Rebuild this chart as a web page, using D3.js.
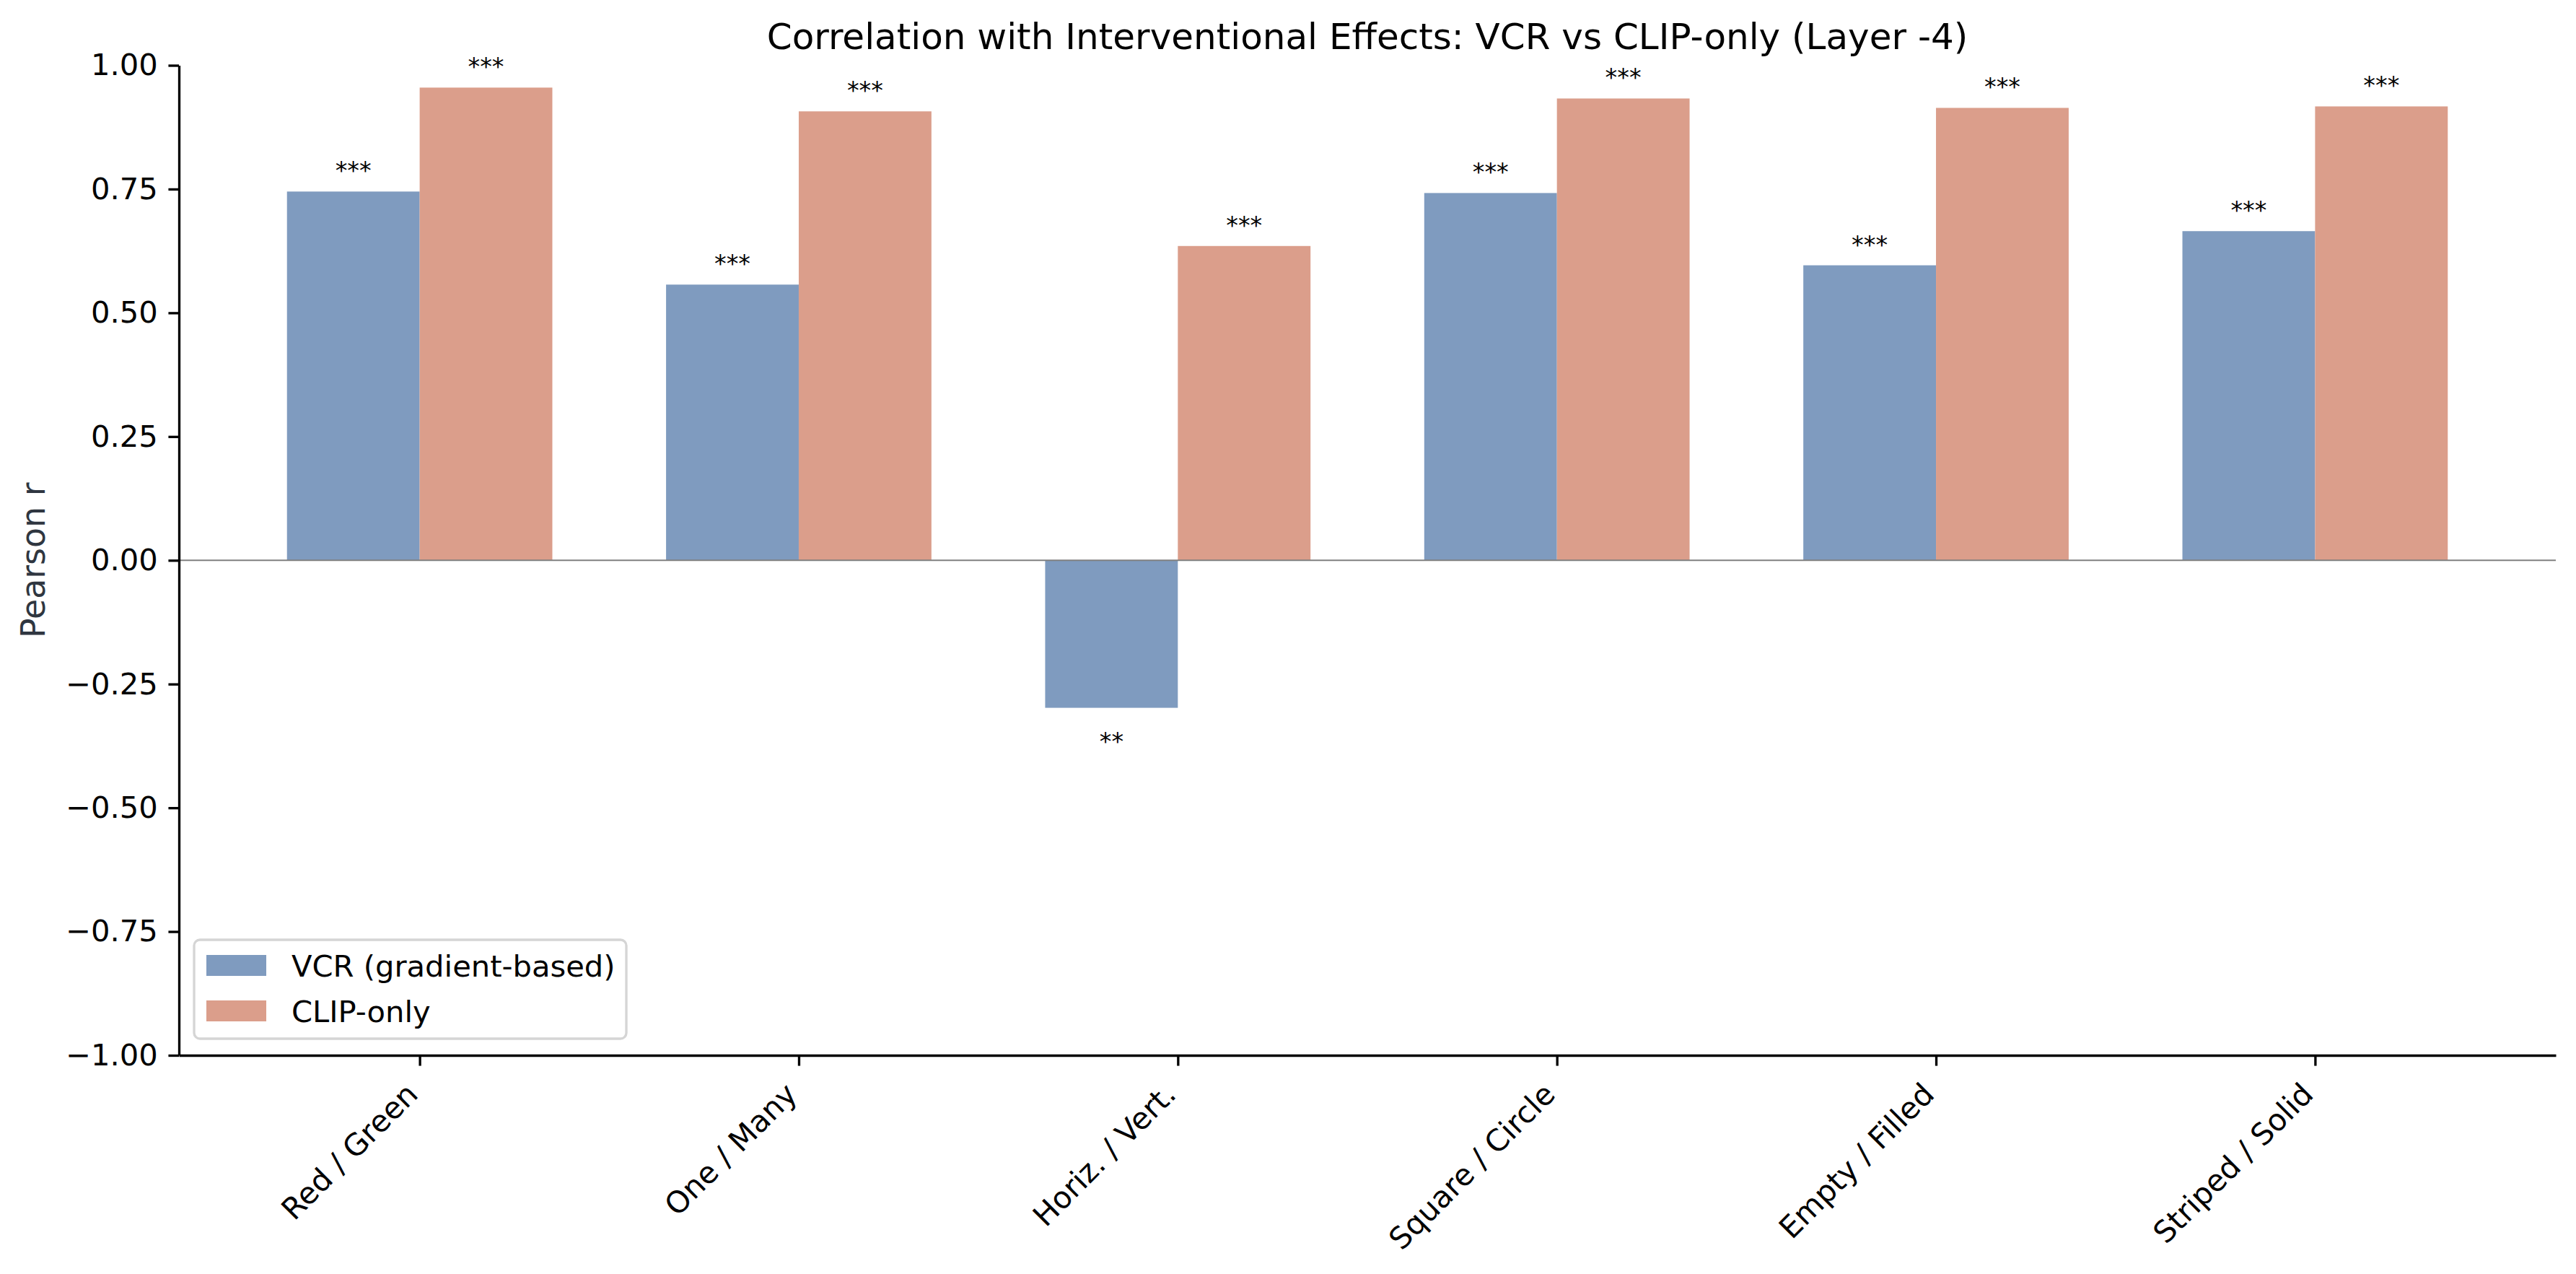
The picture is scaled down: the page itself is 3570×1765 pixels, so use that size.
<!DOCTYPE html>
<html>
<head>
<meta charset="utf-8">
<script src="https://cdn.jsdelivr.net/npm/d3@7"></script>
<style>
  html, body { margin: 0; padding: 0; background: #fff; }
  svg { display: block; font-family: "DejaVu Sans", sans-serif; }
</style>
</head>
<body>
<svg id="chart" width="3570" height="1765"></svg>
<script>
const categories = ["Red / Green", "One / Many", "Horiz. / Vert.", "Square / Circle", "Empty / Filled", "Striped / Solid"];
const vcrValues  = [0.745, 0.557, -0.298, 0.742, 0.596, 0.665];
const clipValues = [0.955, 0.907, 0.635, 0.933, 0.914, 0.917];
const vcrSig  = ["***", "***", "**", "***", "***", "***"];
const clipSig = ["***", "***", "***", "***", "***", "***"];
const seriesNames = ["VCR (gradient-based)", "CLIP-only"];
const yTicks = [-1.0, -0.75, -0.5, -0.25, 0.0, 0.25, 0.5, 0.75, 1.0];
const titleText = "Correlation with Interventional Effects: VCR vs CLIP-only (Layer -4)";
const yLabelText = "Pearson r";

(function () {
const colors = ["#7f9bbf", "#db9e8b"];
const pt = 300 / 72;
const pLeft = 248, pRight = 3542, pTop = 90.5, pBottom = 1462;
const barW = 0.35;

const svg = d3.select("#chart");
const x = d3.scaleLinear().domain([-0.635, 5.635]).range([pLeft, pRight]);
const y = d3.scaleLinear().domain([-1, 1]).range([pBottom, pTop]);

const series = [
  { name: seriesNames[0], values: vcrValues, sig: vcrSig, off: -barW / 2, color: colors[0] },
  { name: seriesNames[1], values: clipValues, sig: clipSig, off: barW / 2, color: colors[1] }
];

// bars
series.forEach(s => {
  svg.append("g").selectAll("rect").data(s.values).join("rect")
    .attr("x", (d, i) => x(i + s.off - barW / 2))
    .attr("width", (d, i) => x(i + s.off + barW / 2) - x(i + s.off - barW / 2))
    .attr("y", d => Math.min(y(d), y(0)))
    .attr("height", d => Math.abs(y(d) - y(0)))
    .attr("fill", s.color);
});

// zero line
svg.append("line")
  .attr("x1", pLeft).attr("x2", pRight)
  .attr("y1", y(0)).attr("y2", y(0))
  .attr("stroke", "#808080").attr("stroke-width", 0.5 * pt);

// significance labels
series.forEach(s => {
  svg.append("g").selectAll("text").data(s.values).join("text")
    .attr("x", (d, i) => x(i + s.off))
    .attr("y", d => d >= 0 ? y(d) - 17 : y(d) + 58)
    .attr("text-anchor", "middle")
    .attr("font-size", 8 * pt)
    .attr("fill", "#000")
    .text((d, i) => s.sig[i]);
});

// y axis
const yAxis = d3.axisLeft(y).tickValues(yTicks).tickFormat(d3.format(".2f"))
  .tickSize(3.5 * pt).tickSizeOuter(0).tickPadding(3.5 * pt);
const gy = svg.append("g").attr("transform", `translate(${pLeft},0)`).call(yAxis);
gy.select(".domain").attr("stroke", "#000").attr("stroke-width", 0.8 * pt);
gy.selectAll(".tick line").attr("stroke", "#000").attr("stroke-width", 0.8 * pt);
gy.selectAll(".tick text").attr("font-size", 10 * pt).attr("font-family", "DejaVu Sans").attr("fill", "#000");

// x axis
const xAxis = d3.axisBottom(x).tickValues(d3.range(categories.length)).tickFormat(i => categories[i])
  .tickSize(3.5 * pt).tickSizeOuter(0).tickPadding(3.5 * pt);
const gx = svg.append("g").attr("transform", `translate(0,${pBottom})`).call(xAxis);
gx.select(".domain").attr("stroke", "#000").attr("stroke-width", 0.8 * pt);
gx.selectAll(".tick line").attr("stroke", "#000").attr("stroke-width", 0.8 * pt);
const fsX = 10 * pt;
gx.selectAll(".tick text")
  .attr("font-size", fsX).attr("font-family", "DejaVu Sans").attr("fill", "#000")
  .attr("text-anchor", "end")
  .attr("y", null)
  .attr("transform", `translate(-28,${7 * pt}) rotate(-45)`)
  .attr("dy", "0.93em");

// title
svg.append("text")
  .attr("x", (pLeft + pRight) / 2).attr("y", 68)
  .attr("text-anchor", "middle")
  .attr("font-size", 12 * pt)
  .attr("fill", "#000")
  .text(titleText);

// y label
svg.append("text")
  .attr("transform", `translate(62,${(pTop + pBottom) / 2}) rotate(-90)`)
  .attr("text-anchor", "middle")
  .attr("font-size", 11 * pt)
  .attr("fill", "#2f3640")
  .text(yLabelText);

// legend
const lg = svg.append("g");
lg.append("rect")
  .attr("x", 269).attr("y", 1302).attr("width", 599).attr("height", 137)
  .attr("rx", 8).attr("ry", 8)
  .attr("fill", "#fff").attr("fill-opacity", 0.8)
  .attr("stroke", "#d5d5d5").attr("stroke-width", 0.8 * pt);
series.forEach((s, i) => {
  const cy = 1337.5 + i * 63;
  lg.append("rect").attr("x", 286).attr("y", cy - 14.5).attr("width", 83).attr("height", 29).attr("fill", s.color);
  lg.append("text").attr("x", 404).attr("y", cy).attr("dy", "0.36em")
    .attr("font-size", 10 * pt).attr("fill", "#000").text(s.name);
});
})();
</script>
</body>
</html>
